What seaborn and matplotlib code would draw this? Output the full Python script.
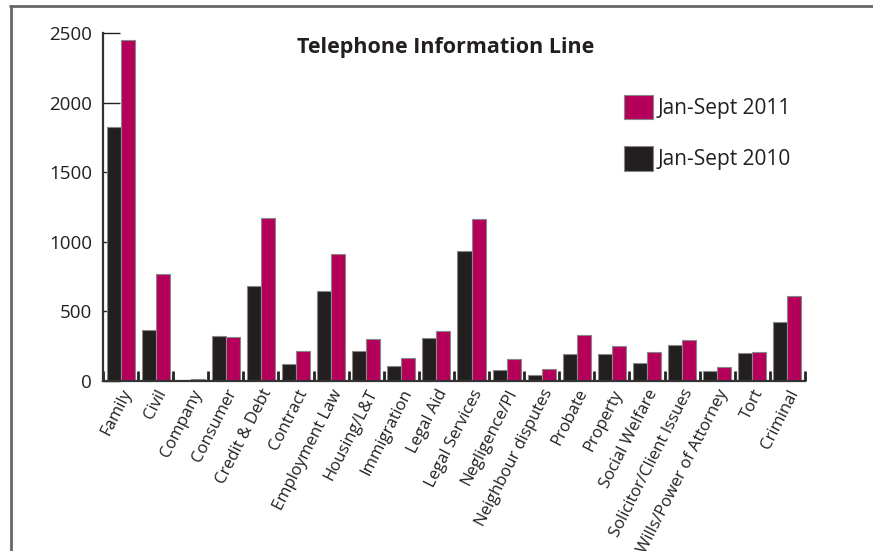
import pandas as pd
import matplotlib.pyplot as plt
import seaborn as sns
from matplotlib.patches import Patch
from matplotlib.lines import Line2D

# Data
CATEGORIES = [
    "Family", "Civil", "Company", "Consumer", "Credit & Debt", "Contract",
    "Employment Law", "Housing/L&T", "Immigration", "Legal Aid", "Legal Services",
    "Negligence/PI", "Neighbour disputes", "Probate", "Property", "Social Welfare",
    "Solicitor/Client Issues", "Wills/Power of Attorney", "Tort", "Criminal",
]
VALUES_2010 = [1825, 366, 2, 325, 682, 122, 647, 218, 110, 311, 934,
               81, 45, 192, 196, 129, 259, 70, 199, 424]
VALUES_2011 = [2450, 767, 15, 314, 1169, 218, 915, 299, 168, 359, 1166,
               156, 84, 328, 251, 211, 295, 98, 211, 613]
SERIES = ["Jan-Sept 2010", "Jan-Sept 2011"]
COLORS = {"Jan-Sept 2010": "#231f20", "Jan-Sept 2011": "#b5005b"}

sns.set_style("white")
plt.rcParams["font.family"] = ["Open Sans", "DejaVu Sans"]

df = pd.DataFrame({
    "category": CATEGORIES * 2,
    "series": [SERIES[0]] * len(CATEGORIES) + [SERIES[1]] * len(CATEGORIES),
    "calls": VALUES_2010 + VALUES_2011,
})

fig = plt.figure(figsize=(8.73, 5.51), dpi=100)
ax = fig.add_axes([0.118, 0.3085, 0.804, 0.6315])

sns.barplot(data=df, x="category", y="calls", hue="series", hue_order=SERIES,
            palette=COLORS, saturation=1, width=0.8, edgecolor="#888888",
            linewidth=0.8, ax=ax, legend=False)

ax.set_xlim(-0.5, len(CATEGORIES) - 0.5)
ax.set_ylim(0, 2500)
ax.set_yticks([0, 500, 1000, 1500, 2000, 2500])
ax.set_xlabel("")
ax.set_ylabel("")

# Axis styling
for side in ["top", "right"]:
    ax.spines[side].set_visible(False)
for side in ["left", "bottom"]:
    ax.spines[side].set_color("#333333")
    ax.spines[side].set_linewidth(1.6)

ax.tick_params(axis="y", direction="in", length=12, width=1.0, color="#222222",
               labelsize=13.5, labelcolor="#231f20", pad=8, left=True)
ax.tick_params(axis="x", which="major", length=0, labelsize=12,
               labelcolor="#231f20", pad=4)
ax.set_xticks([i + 0.5 for i in range(-1, len(CATEGORIES))], minor=True)
ax.tick_params(axis="x", which="minor", direction="in", length=7, width=2,
               color="#222222", bottom=True)
for lbl in ax.get_xticklabels():
    lbl.set_rotation(63)
    lbl.set_ha("right")
    lbl.set_rotation_mode("anchor")

# Title and legend
fig.text(0.511, 0.913, "Telephone Information Line", ha="center", va="center",
         fontsize=15.5, fontweight="bold", color="#231f20")
handles = [Patch(facecolor=COLORS[s], edgecolor="#888888", linewidth=0.8)
           for s in reversed(SERIES)]
fig.legend(handles, list(reversed(SERIES)), loc="upper left",
           bbox_to_anchor=(0.693, 0.861), frameon=False, fontsize=15,
           handlelength=1.4, handleheight=1.4, handletextpad=0.25,
           labelspacing=1.3, labelcolor="#231f20")

# Frame lines around the figure
fig.add_artist(Line2D([10 / 873, 1.0], [1 - 5.5 / 551] * 2, color="#666666",
                      linewidth=2, transform=fig.transFigure))
fig.add_artist(Line2D([10.5 / 873] * 2, [0.0, 1 - 5.5 / 551], color="#666666",
                      linewidth=2, transform=fig.transFigure))

fig.savefig("out.png", dpi=100)
